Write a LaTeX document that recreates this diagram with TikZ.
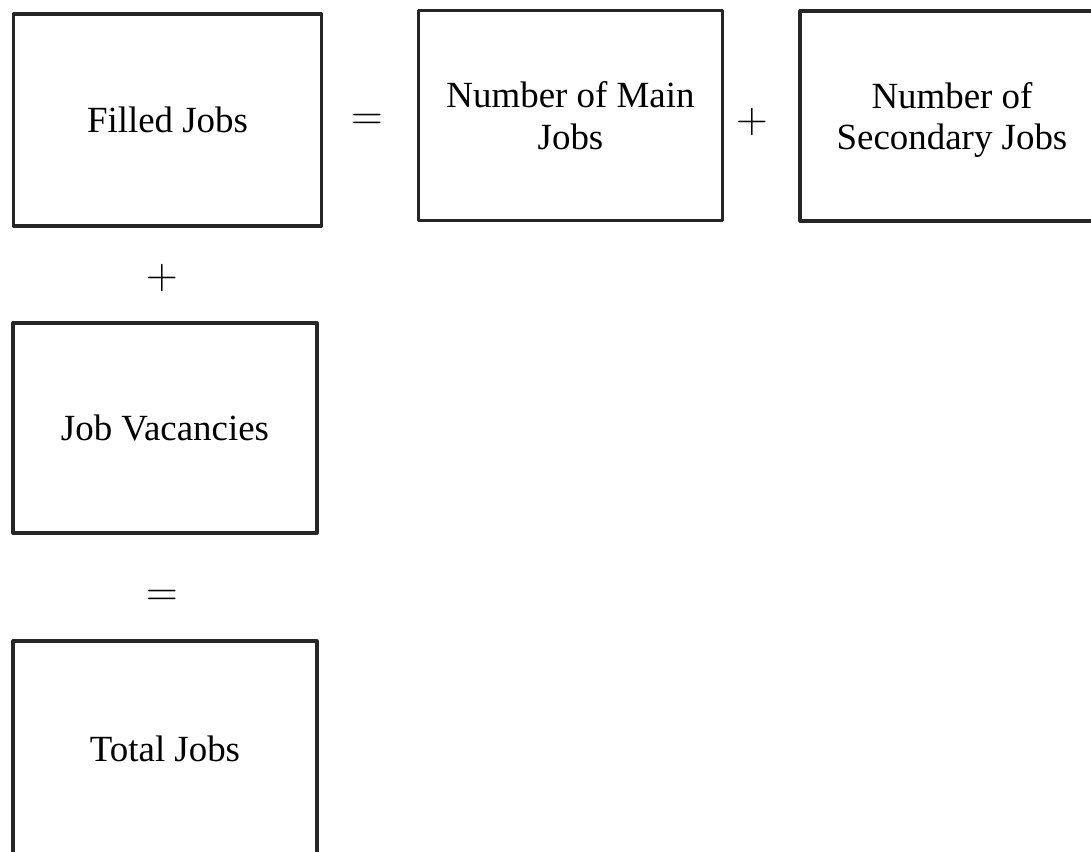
\documentclass[tikz,border=0pt]{standalone}
\usepackage{fontspec}
\setmainfont{Liberation Serif}
\begin{document}
\begin{tikzpicture}[line cap=round,line join=round,every node/.style={inner sep=1pt},
  jobbox/.style={draw=black!85,line width=0.9pt,rectangle,minimum width=3.04cm,minimum height=2.10cm,
    align=center,font=\fontsize{10.5}{11.8}\selectfont},
  opsign/.style={font=\fontsize{13}{14}\selectfont}]
  \clip (0,0) rectangle (10.91,8.52);
  \coordinate (F) at (1.675,7.32);
  \coordinate (M) at (5.705,7.365);
  \coordinate (S) at (9.52,7.36);
  \coordinate (V) at (1.65,4.24);
  \coordinate (T) at (1.65,1.03);
  \node[jobbox,minimum width=3.08cm,minimum height=2.12cm] (filled) at (F) {Filled Jobs};
  \node[jobbox] (main) at (M) {Number of Main\\Jobs};
  \node[jobbox,text depth=-3pt] (second) at (S) {Number of\\Secondary Jobs};
  \node[jobbox] (vacancy) at (V) {Job Vacancies};
  \node[jobbox,minimum height=2.16cm] (total) at (T) {Total Jobs};
  \node[opsign] (eqA) at (3.67,7.30) {$=$};
  \node[opsign] (plusA) at (7.52,7.30) {$+$};
  \node[opsign] (plusB) at (1.62,5.74) {$+$};
  \node[opsign] (eqB) at (1.62,2.54) {$=$};
\end{tikzpicture}
\end{document}
